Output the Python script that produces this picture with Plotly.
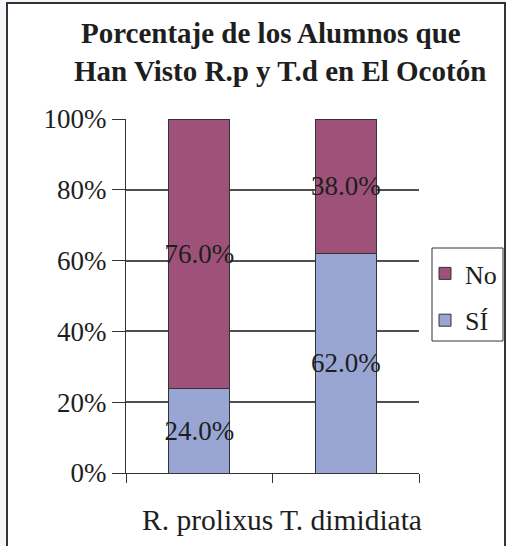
import plotly.graph_objects as go

categories = ["R. prolixus", "T. dimidiata"]
si_values = [24.0, 62.0]
no_values = [76.0, 38.0]
y_tick_values = [0, 20, 40, 60, 80, 100]
y_tick_labels = ["0%", "20%", "40%", "60%", "80%", "100%"]
title_lines = ["Porcentaje de los Alumnos que", "Han Visto R.p y T.d en El Ocotón"]

W, H = 506, 546
ML, MR, MT, MB = 126, 87, 119, 73
PW, PH = W - ML - MR, H - MT - MB

FONT = "'Liberation Serif', 'Times New Roman', 'DejaVu Serif', serif"
INK = "#1e1e1e"

fig = go.Figure()
fig.add_trace(go.Bar(
    x=categories, y=si_values, name="SÍ", legendgroup="si", legendrank=2,
    marker=dict(color="#99a6d4", line=dict(color="#333333", width=1)),
    text=[f"{v:.1f}%" for v in si_values], textposition="inside",
    insidetextanchor="middle", constraintext="none", textangle=0,
    textfont=dict(family=FONT, size=27, color=INK), width=0.416,
))
fig.add_trace(go.Bar(
    x=categories, y=no_values, name="No", legendgroup="no", legendrank=1,
    marker=dict(color="#9e5279", line=dict(color="#333333", width=1)),
    text=[f"{v:.1f}%" for v in no_values], textposition="inside",
    insidetextanchor="middle", constraintext="none", textangle=0,
    textfont=dict(family=FONT, size=27, color=INK), width=0.416,
))

def px_x(p):
    return (p - ML) / PW

def px_y(p):
    return (H - MB - p) / PH

fig.update_layout(
    width=W, height=H,
    margin=dict(l=ML, r=MR, t=MT, b=MB, autoexpand=False),
    barmode="stack",
    paper_bgcolor="#f4f6fa",
    plot_bgcolor="#c0c3cb",
    font=dict(family=FONT, color=INK),
    showlegend=True,
    legend=dict(xref="container", yref="container",
                x=425 / W, xanchor="left", y=1 - 250 / H, yanchor="top",
                borderwidth=0, bgcolor="rgba(0,0,0,0)",
                font=dict(family=FONT, size=26, color=INK),
                traceorder="grouped", tracegroupgap=10),
    xaxis=dict(showticklabels=False, ticks="outside", ticklen=9,
               tickcolor="#333333", showline=True, linecolor="#333333",
               linewidth=1, showgrid=False, tickmode="array",
               tickvals=[-0.5, 0.5, 1.5], range=[-0.5, 1.5]),
    yaxis=dict(range=[0, 100], tickvals=y_tick_values, ticktext=y_tick_labels,
               ticks="outside", ticklen=13, tickcolor="#333333",
               showline=True, linecolor="#333333", linewidth=1,
               showgrid=True, gridcolor="#4f4f4f", gridwidth=1.6,
               tickfont=dict(family=FONT, size=27, color=INK),
               zeroline=False),
    shapes=[
        dict(type="rect", xref="paper", yref="paper",
             x0=px_x(7), x1=px_x(505), y0=px_y(550), y1=px_y(3),
             line=dict(color="#333333", width=2), fillcolor="white",
             layer="below"),
        dict(type="rect", xref="paper", yref="paper",
             x0=px_x(432), x1=px_x(503), y0=px_y(341), y1=px_y(248),
             line=dict(color="#333333", width=1), fillcolor="white",
             layer="below"),
    ],
    annotations=[
        dict(text="<b>" + title_lines[0] + "</b>", xref="paper", yref="paper",
             x=px_x(271), y=px_y(33), xanchor="center", yanchor="middle",
             showarrow=False, font=dict(family=FONT, size=29, color=INK)),
        dict(text="<b>" + title_lines[1] + "</b>", xref="paper", yref="paper",
             x=px_x(280), y=px_y(71), xanchor="center", yanchor="middle",
             showarrow=False, font=dict(family=FONT, size=29, color=INK)),
        dict(text=" ".join(categories), xref="paper", yref="paper",
             x=px_x(282), y=px_y(520), xanchor="center", yanchor="middle",
             showarrow=False, font=dict(family=FONT, size=29.5, color=INK)),
    ],
)

fig.write_html("out.html",
               config={"responsive": False, "displayModeBar": False},
               post_script="document.body.style.margin='0';document.body.style.overflow='hidden';")
